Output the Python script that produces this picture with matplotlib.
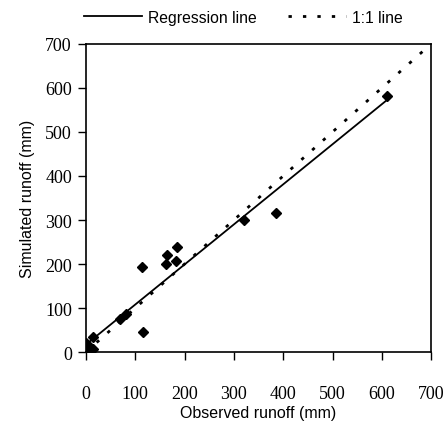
import numpy as np
import matplotlib.pyplot as plt

plt.rcParams['font.family'] = ['Liberation Sans', 'DejaVu Sans']

# observed vs simulated runoff (mm)
observed = [610, 386, 321, 185, 183, 164, 162, 113, 115, 81, 69, 15, 0, 15, 5, 0, 10]
simulated = [582, 315, 300, 239, 207, 220, 199, 194, 45, 87, 76, 35, 20, 6, 2, 0, 10]

# regression line as drawn
reg_slope = 0.91
reg_intercept = 17
reg_x = [0, 610]

ticks = [0, 100, 200, 300, 400, 500, 600, 700]
tick_labels = [str(t) for t in ticks]

fig = plt.figure(figsize=(4.45, 4.27), dpi=100)
ax = fig.add_axes([0.193, 0.173, 0.776, 0.722])

ax.plot(observed, simulated, 'D', color='black', markersize=5, zorder=3)
rx = np.array(reg_x)
l1, = ax.plot(rx, reg_slope * rx + reg_intercept, '-', color='black', lw=1.3, label='Regression line')
l2, = ax.plot([0, 700], [0, 700], color='black', lw=2, linestyle=(0, (1.2, 4)), label='1:1 line')

ax.set_xlim(0, 700)
ax.set_ylim(0, 700)
ax.set_xticks(ticks, labels=tick_labels, fontfamily='Liberation Serif', fontsize=13)
ax.set_yticks(ticks, labels=tick_labels, fontfamily='Liberation Serif', fontsize=13)
ax.tick_params(direction='out', length=6, width=1)
ax.tick_params(axis='x', pad=18)
ax.tick_params(axis='y', pad=4)
for s in ax.spines.values():
    s.set_linewidth(1.2)

ax.set_xlabel('Observed runoff (mm)', fontsize=11.5, fontfamily='Liberation Sans')
ax.xaxis.set_label_coords(0.5, -0.172)
ax.set_ylabel('Simulated runoff (mm)', fontsize=11.5, fontfamily='Liberation Sans', labelpad=7)

fig.legend(handles=[l1, l2], loc='center left', bbox_to_anchor=(0.188, 0.957), ncol=2,
           frameon=False, fontsize=11.3, handlelength=3.7, handletextpad=0.4,
           columnspacing=2.0, borderaxespad=0, borderpad=0)

fig.savefig('out.png', dpi=100)
